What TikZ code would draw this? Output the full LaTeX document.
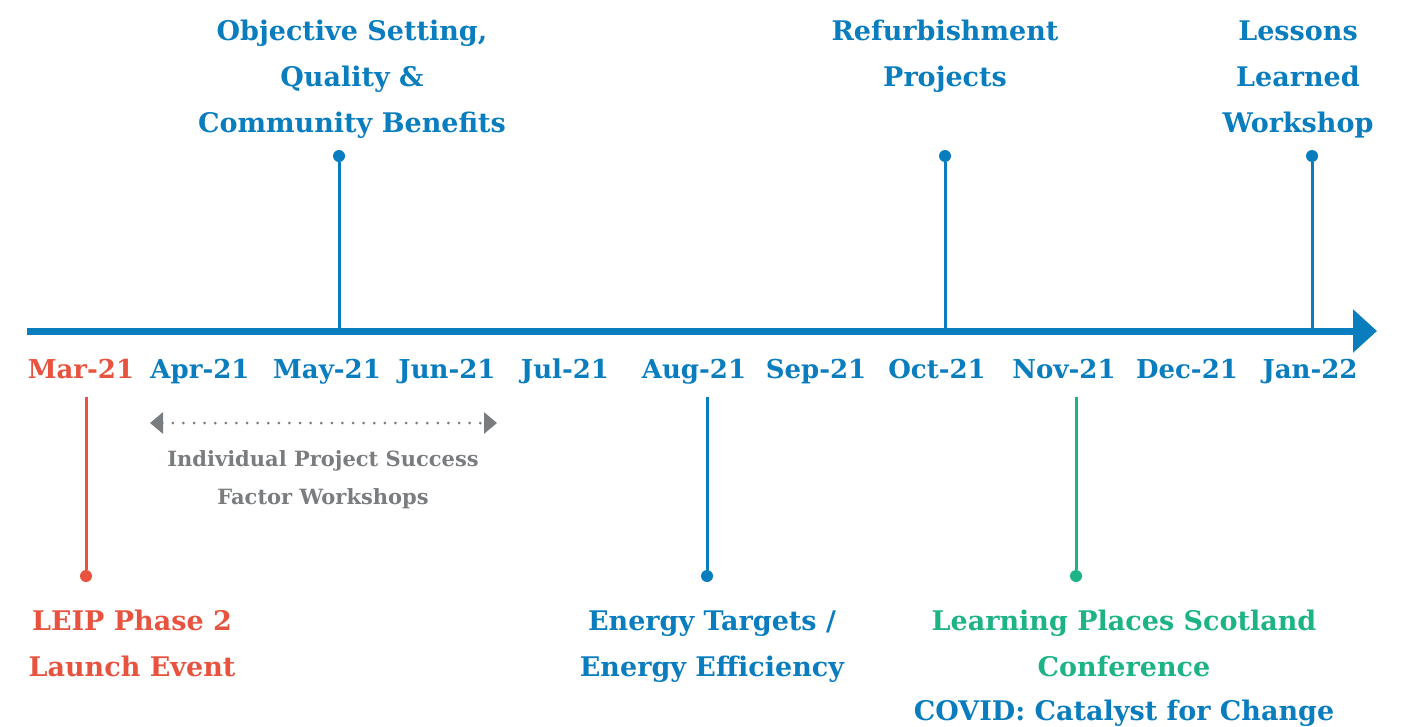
\documentclass[tikz,border=0pt]{standalone}
\usepackage{fontspec}
\setmainfont{DejaVu Serif}
\usepackage{tikz}
\usetikzlibrary{arrows.meta}
\definecolor{tlblue}{RGB}{10,125,190}
\definecolor{tlred}{RGB}{232,83,63}
\definecolor{tlgreen}{RGB}{29,179,134}
\definecolor{tlgrey}{RGB}{122,125,128}
\tikzset{
  month/.style={font=\fontsize{26}{30}\selectfont\bfseries, text=tlblue, inner sep=0pt, anchor=base},
  event/.style={font=\fontsize{27}{46}\selectfont\bfseries, align=center, inner sep=0pt, anchor=base},
  stem/.style={line width=3pt},
  dot/.style={circle, fill, inner sep=0pt, minimum size=12pt},
}
\begin{document}
\begin{tikzpicture}[x=1pt,y=-1pt]
\useasboundingbox (0,0) rectangle (1410,726);
% time axis
\coordinate (start) at (27,331);
\coordinate (end) at (1377,331);
\draw[tlblue, line width=7pt, -{Triangle[length=24pt,width=42pt]}] (start) -- (end);
% months
\node[month, text=tlred] (mar) at (81,378) {Mar-21};
\node[month] (apr) at (200,378) {Apr-21};
\node[month] (may) at (327,378) {May-21};
\node[month] (jun) at (447,378) {Jun-21};
\node[month] (jul) at (565,378) {Jul-21};
\node[month] (aug) at (694,378) {Aug-21};
\node[month] (sep) at (816,378) {Sep-21};
\node[month] (oct) at (937,378) {Oct-21};
\node[month] (nov) at (1064,378) {Nov-21};
\node[month] (dec) at (1187,378) {Dec-21};
\node[month] (jan) at (1310,378) {Jan-22};
% events above the axis (base = last line)
\node[dot, tlblue] (d1) at (339,156) {};
\coordinate (a1) at (339,331);
\draw[stem, tlblue] (d1) -- (a1);
\node[event, text=tlblue] (e1) at (352,132) {Objective Setting,\\Quality \&\\Community Benefits};
\node[dot, tlblue] (d2) at (945,156) {};
\coordinate (a2) at (945,331);
\draw[stem, tlblue] (d2) -- (a2);
\node[event, text=tlblue] (e2) at (945,86) {Refurbishment\\Projects};
\node[dot, tlblue] (d3) at (1312,156) {};
\coordinate (a3) at (1312,331);
\draw[stem, tlblue] (d3) -- (a3);
\node[event, text=tlblue] (e3) at (1298,132) {Lessons\\Learned\\Workshop};
% events below the axis
\coordinate (b1) at (86,397);
\node[dot, tlred] (d4) at (86,576) {};
\draw[stem, tlred] (b1) -- (d4);
\node[event, text=tlred] (e4) at (132,676) {LEIP Phase 2\\Launch Event};
\coordinate (b2) at (707,397);
\node[dot, tlblue] (d5) at (707,576) {};
\draw[stem, tlblue] (b2) -- (d5);
\node[event, text=tlblue] (e5) at (712,676) {Energy Targets /\\Energy Efficiency};
\coordinate (b3) at (1076,397);
\node[dot, tlgreen] (d6) at (1076,576) {};
\draw[stem, tlgreen] (b3) -- (d6);
\node[event, text=tlgreen] (e6) at (1124,676) {Learning Places Scotland\\Conference};
\node[event, text=tlblue] (e7) at (1124,720) {COVID: Catalyst for Change};
% workshops span
\coordinate (w1) at (150,423);
\coordinate (w2) at (497,423);
\draw[tlgrey, line width=3pt, line cap=round, dash pattern=on 0pt off 10.6pt,
  {Triangle[length=13pt,width=21pt,line cap=butt]}-{Triangle[length=13pt,width=21pt,line cap=butt]}] (w1) -- (w2);
\node[font=\fontsize{21}{38}\selectfont\bfseries, align=center, text=tlgrey, inner sep=0pt, anchor=base] (ws) at (323,504) {Individual Project Success\\Factor Workshops};
\end{tikzpicture}
\end{document}
